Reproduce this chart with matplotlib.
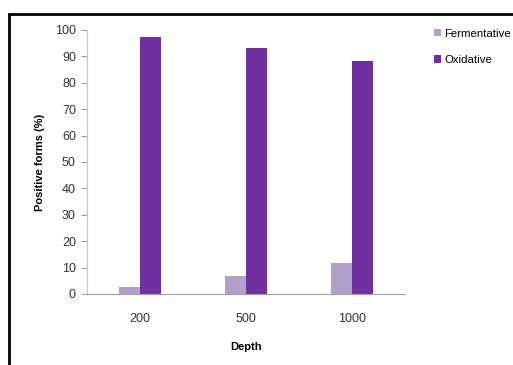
import matplotlib
matplotlib.use("Agg")
import matplotlib.pyplot as plt
import numpy as np
from matplotlib.patches import Rectangle

categories = ["200", "500", "1000"]
fermentative = [2.8, 6.8, 11.8]
oxidative = [97.3, 93.3, 88.3]
yticks = list(range(0, 101, 10))

plt.rcParams['font.family'] = ['Liberation Sans', 'DejaVu Sans']

fig = plt.figure(figsize=(5.13, 3.65), dpi=100)
ax = fig.add_axes([87/513, 71/365, 318/513, 264/365])

x = np.arange(len(categories))
w = 0.2
ax.bar(x - w/2, fermentative, w, color="#B1A0C7", label="Fermentative")
ax.bar(x + w/2, oxidative, w, color="#7030A0", label="Oxidative")

ax.set_xlim(-0.5, 2.5)
ax.set_ylim(0, 100)
ax.set_yticks(yticks)
ax.set_xticks(x)
ax.set_xticklabels(categories)
for s in ["top", "right"]:
    ax.spines[s].set_visible(False)
ax.spines["left"].set_color("#C8C8C8")
ax.spines["bottom"].set_color("#A0A0A0")
ax.tick_params(axis="y", length=4, color="#A0A0A0", labelsize=9, labelcolor="#333333", pad=4)
ax.tick_params(axis="x", length=0, labelsize=9, labelcolor="#333333", pad=14)
ax.set_ylabel("Positive forms (%)", fontsize=8, fontweight="bold", labelpad=7)
ax.set_xlabel("Depth", fontsize=8, fontweight="bold", labelpad=12)

leg = fig.legend(loc="upper left", bbox_to_anchor=(429/513, 1 - 24/365), frameon=False,
                 fontsize=8.2, handlelength=0.65, handleheight=0.65, handletextpad=0.3,
                 labelspacing=1.45, borderaxespad=0)

fig.patches.append(Rectangle((9/513, -0.05), 1.2, 1 - 14/365 + 0.05, transform=fig.transFigure,
                             fill=False, edgecolor="black", linewidth=2, figure=fig))

fig.savefig("out.png", dpi=100)
